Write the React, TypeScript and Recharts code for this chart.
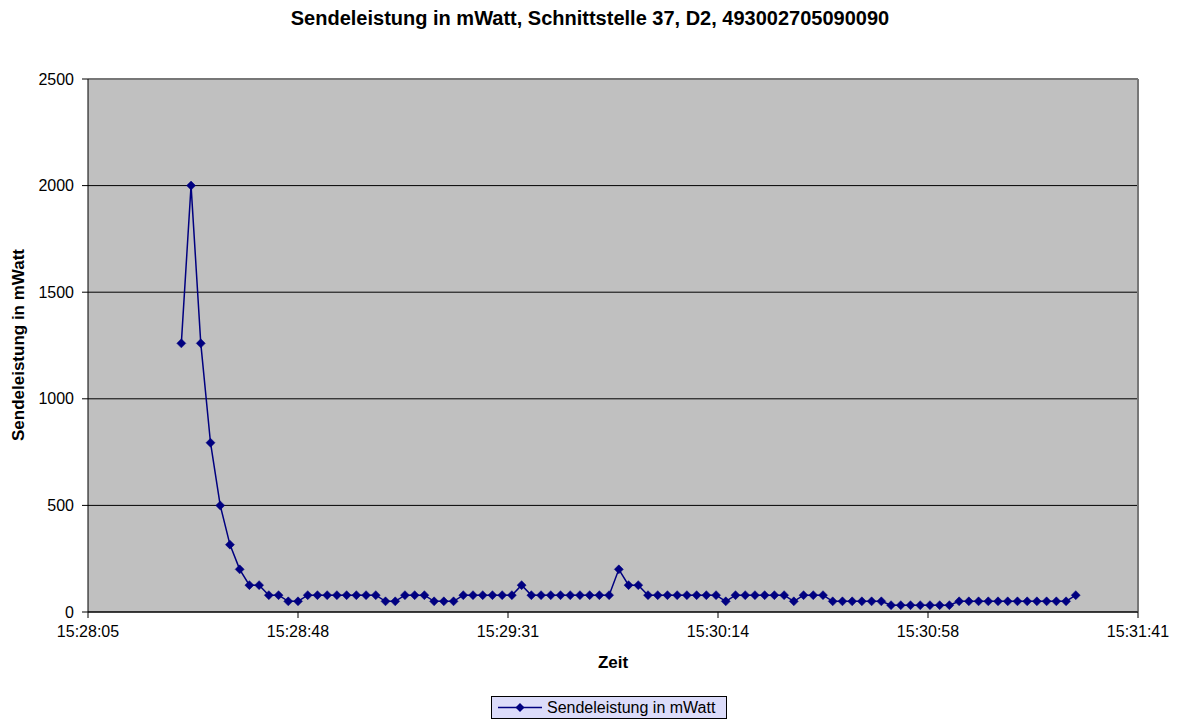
import React from 'react';
import { LineChart, Line, XAxis, YAxis, CartesianGrid, ReferenceLine } from 'recharts';

const chartTitle = 'Sendeleistung in mWatt, Schnittstelle 37, D2, 493002705090090';
const seriesName = 'Sendeleistung in mWatt';
const xTitle = 'Zeit';
const yTitle = 'Sendeleistung in mWatt';

// sample times (hh:mm:ss)
const times = [
  '15:28:24', '15:28:26', '15:28:28', '15:28:30', '15:28:32', '15:28:34', '15:28:36', '15:28:38', '15:28:40',
  '15:28:42', '15:28:44', '15:28:46', '15:28:48', '15:28:50', '15:28:52', '15:28:54', '15:28:56', '15:28:58',
  '15:29:00', '15:29:02', '15:29:04', '15:29:06', '15:29:08', '15:29:10', '15:29:12', '15:29:14', '15:29:16',
  '15:29:18', '15:29:20', '15:29:22', '15:29:24', '15:29:26', '15:29:28', '15:29:30', '15:29:32', '15:29:34',
  '15:29:36', '15:29:38', '15:29:40', '15:29:42', '15:29:44', '15:29:46', '15:29:48', '15:29:50', '15:29:52',
  '15:29:54', '15:29:56', '15:29:58', '15:30:00', '15:30:02', '15:30:04', '15:30:06', '15:30:08', '15:30:10',
  '15:30:12', '15:30:14', '15:30:16', '15:30:18', '15:30:20', '15:30:22', '15:30:24', '15:30:26', '15:30:28',
  '15:30:30', '15:30:32', '15:30:34', '15:30:36', '15:30:38', '15:30:40', '15:30:42', '15:30:44', '15:30:46',
  '15:30:48', '15:30:50', '15:30:52', '15:30:54', '15:30:56', '15:30:58', '15:31:00', '15:31:02', '15:31:04',
  '15:31:06', '15:31:08', '15:31:10', '15:31:12', '15:31:14', '15:31:16', '15:31:18', '15:31:20', '15:31:22',
  '15:31:24', '15:31:26', '15:31:28',
];

// Sendeleistung in mWatt
const power = [
  1260, 2000, 1260, 794, 500, 316, 200, 126, 126, 79, 79, 50, 50,
  79, 79, 79, 79, 79, 79, 79, 79,
  50, 50,
  79, 79, 79,
  50, 50, 50,
  79, 79, 79, 79, 79, 79,
  126,
  79, 79, 79, 79, 79, 79, 79, 79, 79,
  200, 126, 126,
  79, 79, 79, 79, 79, 79, 79, 79,
  50,
  79, 79, 79, 79, 79, 79,
  50,
  79, 79, 79,
  50, 50, 50, 50, 50, 50,
  32, 32, 32, 32, 32, 32, 32,
  50, 50, 50, 50, 50, 50, 50, 50, 50, 50, 50, 50,
  79,
];

const xTickLabels = ['15:28:05', '15:28:48', '15:29:31', '15:30:14', '15:30:58', '15:31:41'];
const yTicks = [0, 500, 1000, 1500, 2000, 2500];

// x axis runs from 15:28:04.8 over 216 s, major unit 43.2 s
const AXIS_START = 15 * 3600 + 28 * 60 + 4.8;
const AXIS_SPAN = 216;
const xTicks = xTickLabels.map((_, i) => (i * AXIS_SPAN) / (xTickLabels.length - 1));

const toSec = (s: string) => {
  const [h, m, sec] = s.split(':').map(Number);
  return h * 3600 + m * 60 + sec;
};

const data = times.map((t, i) => ({ t: toSec(t) - AXIS_START, p: power[i] }));

const NAVY = '#000080';
const FONT = '"Liberation Sans", Arial, sans-serif';

const Diamond = (props: any) => {
  const { cx, cy, index } = props;
  if (cx == null || cy == null) return <g key={index} />;
  const r = 4.5;
  return (
    <polygon
      key={index}
      points={`${cx},${cy - r} ${cx + r},${cy} ${cx},${cy + r} ${cx - r},${cy}`}
      fill={NAVY}
      stroke={NAVY}
      strokeWidth={0.5}
    />
  );
};

export default function App() {
  return (
    <div style={{ position: 'absolute', left: 0, top: 0, width: 1180, height: 722, background: '#fff', fontFamily: FONT }}>
      <div style={{ position: 'absolute', left: 0, top: 7, width: 1180, textAlign: 'center', fontWeight: 'bold', fontSize: 20, color: '#000' }}>
        {chartTitle}
      </div>
      <LineChart width={1180} height={722} data={data} margin={{ top: 79, right: 42, bottom: 80, left: 0 }}>
        <CartesianGrid vertical={false} stroke="#000" fill="#C0C0C0" fillOpacity={1} />
        <XAxis
          dataKey="t"
          type="number"
          domain={[0, AXIS_SPAN]}
          ticks={xTicks}
          allowDataOverflow
          height={30}
          tickSize={6}
          tickMargin={8}
          tickFormatter={(_v: number, i: number) => xTickLabels[i]}
          stroke="#000"
          tick={{ fill: '#000', fontSize: 16, fontFamily: FONT }}
        />
        <YAxis
          type="number"
          domain={[0, 2500]}
          ticks={yTicks}
          width={88}
          tickSize={6}
          tickMargin={8}
          stroke="#000"
          tick={{ fill: '#000', fontSize: 16, fontFamily: FONT }}
        />
        <ReferenceLine y={2500} stroke="#777" strokeWidth={2} />
        <ReferenceLine x={AXIS_SPAN} stroke="#777" strokeWidth={2} />
        <Line
          dataKey="p"
          name={seriesName}
          stroke={NAVY}
          strokeWidth={1.5}
          dot={Diamond}
          activeDot={false}
          isAnimationActive={false}
        />
      </LineChart>
      <div
        style={{
          position: 'absolute', left: 19, top: 345, transform: 'translate(-50%, -50%) rotate(-90deg)',
          whiteSpace: 'nowrap', fontWeight: 'bold', fontSize: 17, color: '#000',
        }}
      >
        {yTitle}
      </div>
      <div style={{ position: 'absolute', left: 613, top: 663, transform: 'translate(-50%, -50%)', fontWeight: 'bold', fontSize: 17, color: '#000' }}>
        {xTitle}
      </div>
      <div
        style={{
          position: 'absolute', left: 491, top: 696, width: 236, height: 23, boxSizing: 'border-box',
          border: '1px solid #000', background: '#DCDCFA', display: 'flex', alignItems: 'center', fontSize: 16, color: '#000',
        }}
      >
        <svg width={50} height={21} style={{ marginLeft: 4 }}>
          <line x1={2} y1={10.5} x2={46} y2={10.5} stroke={NAVY} strokeWidth={1.5} />
          <polygon points="24,6 28.5,10.5 24,15 19.5,10.5" fill={NAVY} />
        </svg>
        <span style={{ marginLeft: 1 }}>{seriesName}</span>
      </div>
    </div>
  );
}
